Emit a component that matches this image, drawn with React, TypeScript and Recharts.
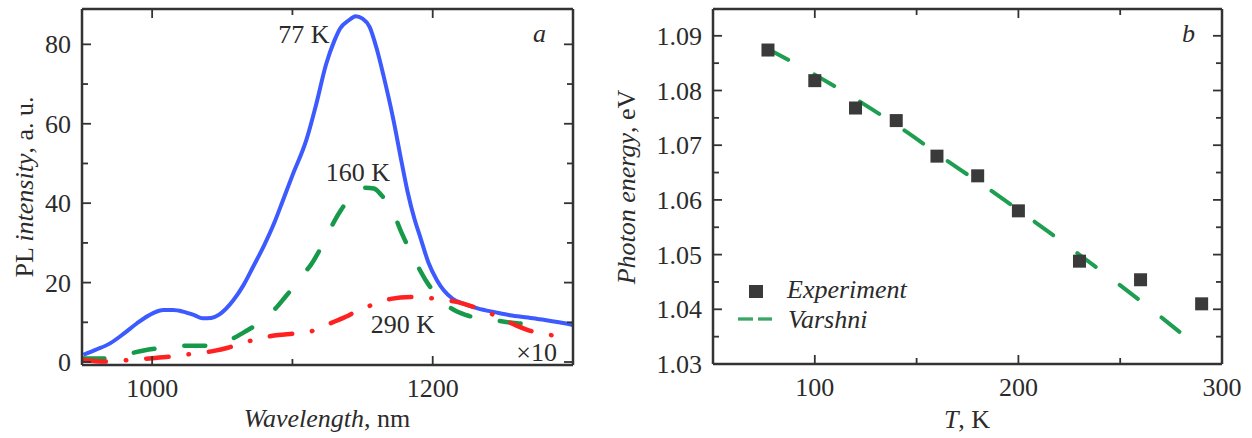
import React from "react";
import { ComposedChart, Line, LineChart, Scatter, XAxis, YAxis } from "recharts";

const FONT = "'Liberation Serif', 'Times New Roman', serif";
const INK = "#2b2b2b";
const FRAME = "#333333";

// panel a: PL spectra (290 K curve is multiplied by 10)
const wl77 = [951, 960, 970, 980, 989, 1000, 1008, 1015, 1022, 1030, 1036, 1042, 1048, 1058, 1065, 1072, 1080, 1087, 1093, 1100, 1110, 1117, 1124, 1130, 1134, 1140, 1145, 1150, 1155, 1160, 1165, 1172, 1178, 1182, 1187, 1191, 1197, 1203, 1208, 1214, 1222, 1232, 1245, 1255, 1268, 1280, 1290, 1300];
const pl77 = [1.8, 3.1, 4.7, 7.2, 9.7, 12.2, 13.1, 13.1, 12.7, 11.8, 11.0, 11.1, 12.0, 15.6, 19.3, 24.0, 29.5, 35, 40.5, 47, 56, 65, 75, 81, 84, 86, 87.1, 86.5, 84.4, 79, 72, 61, 50, 43, 36, 31.6, 25, 20.6, 18, 16, 14.7, 13.5, 12.5, 11.8, 11.2, 10.6, 10, 9.3];

const wl160 = [951, 966, 975, 985, 994, 1003, 1013, 1023, 1032, 1041, 1050, 1058, 1066, 1073, 1080, 1088, 1094, 1100, 1106, 1113, 1122, 1131, 1136, 1140, 1146, 1152, 1158, 1164, 1170, 1178, 1186, 1195, 1205, 1212, 1224, 1241, 1250, 1262, 1279];
const pl160 = [0.9, 0.9, 1.4, 2.2, 2.9, 3.4, 3.8, 4.1, 4.1, 4.1, 4.8, 6.0, 7.6, 9.1, 11.0, 13.5, 16, 18.6, 21.5, 24.4, 29.9, 36.2, 39.0, 41.2, 43.0, 43.9, 43.7, 41.8, 39.1, 32.4, 26.5, 20.6, 16, 13.8, 11.8, 10.7, 10.2, 9.7, 9.1];

const wl290 = [951, 960, 970, 983, 998, 1017, 1031, 1044, 1054, 1064, 1077, 1090, 1100, 1111, 1124, 1138, 1147, 1157, 1170, 1184, 1195, 1203, 1216, 1229, 1238, 1246, 1259, 1272, 1282, 1292];
const pl290 = [0.5, 0.2, 0.1, 0.5, 0.9, 1.5, 2.2, 2.8, 3.6, 4.7, 6.0, 6.8, 7.1, 7.5, 9.3, 11.4, 13.0, 14.4, 15.9, 16.4, 16.2, 15.9, 15.2, 13.9, 12.8, 11.4, 9.3, 7.6, 6.9, 6.4];

const xTicksA = [1000, 1100, 1200];
const xLabelsA = [1000, 1200];
const yTicksA = [0, 10, 20, 30, 40, 50, 60, 70, 80];
const yLabelsA = [0, 20, 40, 60, 80];

// panel b: peak energy vs temperature
const tempExp = [77, 100, 120, 140, 160, 180, 200, 230, 260, 290];
const energyExp = [1.0874, 1.0818, 1.0768, 1.0745, 1.068, 1.0644, 1.058, 1.0488, 1.0454, 1.041];
const tempFit = [77, 100, 122, 144, 166, 187, 208, 231, 251, 271, 282];
const energyFit = [1.0876, 1.0829, 1.078, 1.0727, 1.0669, 1.0616, 1.056, 1.0497, 1.0441, 1.0383, 1.035];

const xTicksB = [100, 150, 200, 250, 300];
const xLabelsB = [100, 200, 300];
const yTicksB = [1.03, 1.035, 1.04, 1.045, 1.05, 1.055, 1.06, 1.065, 1.07, 1.075, 1.08, 1.085, 1.09];
const yLabelsB = [1.03, 1.04, 1.05, 1.06, 1.07, 1.08, 1.09];

const rows = (xs: number[], ys: number[], xk: string, yk: string) =>
  xs.map((x, i) => ({ [xk]: x, [yk]: ys[i] }));

const spec77 = rows(wl77, pl77, "wl", "pl");
const spec160 = rows(wl160, pl160, "wl", "pl");
const spec290 = rows(wl290, pl290, "wl", "pl");
const expRows = rows(tempExp, energyExp, "t", "e");
const fitRows = rows(tempFit, energyFit, "t", "e");

const isIn = (list: number[], v: number) => list.some((l) => Math.abs(l - v) < 1e-9);

// inward ticks on every side, labels only on bottom/left majors
function makeTick(side: "bottom" | "top" | "left" | "right", labels: number[], fmt: (v: number) => string) {
  // biome-ignore lint/suspicious/noExplicitAny: recharts tick props
  return (props: any) => {
    const { x, y, payload } = props;
    const v = payload.value as number;
    const major = isIn(labels, v);
    const len = major ? 9 : 6;
    const stroke = { stroke: FRAME, strokeWidth: 1.8 };
    if (side === "bottom") {
      return (
        <g>
          <line x1={x} x2={x} y1={y} y2={y - len} {...stroke} />
          {major && (
            <text x={x} y={y + 32} textAnchor="middle" fontSize={26} fontFamily={FONT} fill={INK}>
              {fmt(v)}
            </text>
          )}
        </g>
      );
    }
    if (side === "top") return <line x1={x} x2={x} y1={y} y2={y + len} {...stroke} />;
    if (side === "left") {
      return (
        <g>
          <line x1={x} x2={x + len} y1={y} y2={y} {...stroke} />
          {major && (
            <text x={x - 11} y={y + 9} textAnchor="end" fontSize={26} fontFamily={FONT} fill={INK}>
              {fmt(v)}
            </text>
          )}
        </g>
      );
    }
    return <line x1={x} x2={x - len} y1={y} y2={y} {...stroke} />;
  };
}

const intFmt = (v: number) => String(Math.round(v));
const eFmt = (v: number) => v.toFixed(2);
const axisLine = { stroke: FRAME, strokeWidth: 2.5 };
const flat = { tickSize: 0, tickMargin: 0, tickLine: false, axisLine, interval: 0 as const, allowDataOverflow: true };

// biome-ignore lint/suspicious/noExplicitAny: recharts shape props
const SquareMark = (p: any) => (
  <rect x={p.cx - 6.5} y={p.cy - 6.5} width={13} height={13} fill="#3a3a3a" />
);

function SpectraChart() {
  return (
    <LineChart width={600} height={438} margin={{ top: 8, right: 26, bottom: 72, left: 81 }}>
      <XAxis type="number" dataKey="wl" domain={[950, 1300]} ticks={xTicksA} height={1} {...flat}
        tick={makeTick("bottom", xLabelsA, intFmt)} />
      <XAxis xAxisId="top" orientation="top" type="number" dataKey="wl" domain={[950, 1300]} ticks={xTicksA}
        height={1} {...flat} tick={makeTick("top", xLabelsA, intFmt)} />
      <YAxis type="number" domain={[-0.75, 88.9]} ticks={yTicksA} width={1} {...flat}
        tick={makeTick("left", yLabelsA, intFmt)} />
      <YAxis yAxisId="right" orientation="right" type="number" domain={[-0.75, 88.9]} ticks={yTicksA}
        width={1} {...flat} tick={makeTick("right", yLabelsA, intFmt)} />
      <Line data={spec77} dataKey="pl" type="monotone" stroke="#3d5afe" strokeWidth={4} dot={false}
        isAnimationActive={false} />
      <Line data={spec160} dataKey="pl" type="monotone" stroke="#17994a" strokeWidth={4.5}
        strokeDasharray="21 30" strokeLinecap="round" dot={false} isAnimationActive={false} />
      <Line data={spec290} dataKey="pl" type="monotone" stroke="#ff2020" strokeWidth={4.5}
        strokeDasharray="22.5 20 0.5 20" strokeLinecap="round" dot={false} isAnimationActive={false} />
    </LineChart>
  );
}

function EnergyChart() {
  return (
    <ComposedChart width={632} height={438} margin={{ top: 8, right: 29, bottom: 73, left: 92 }}>
      <XAxis type="number" dataKey="t" domain={[50, 300]} ticks={xTicksB} height={1} {...flat}
        tick={makeTick("bottom", xLabelsB, intFmt)} />
      <XAxis xAxisId="top" orientation="top" type="number" dataKey="t" domain={[50, 300]} ticks={xTicksB}
        height={1} {...flat} tick={makeTick("top", xLabelsB, intFmt)} />
      <YAxis type="number" domain={[1.03, 1.0949]} ticks={yTicksB} width={1} {...flat}
        tick={makeTick("left", yLabelsB, eFmt)} />
      <YAxis yAxisId="right" orientation="right" type="number" domain={[1.03, 1.0949]} ticks={yTicksB}
        width={1} {...flat} tick={makeTick("right", yLabelsB, eFmt)} />
      <Scatter data={expRows} dataKey="e" shape={SquareMark} isAnimationActive={false} />
      <Line data={fitRows} dataKey="e" type="monotone" stroke="#1d9e50" strokeWidth={4}
        strokeDasharray="23 30" strokeLinecap="round" dot={false} isAnimationActive={false} />
    </ComposedChart>
  );
}

const txt = { fontFamily: FONT, fontSize: 26, fill: INK };

export default function App() {
  return (
    <div style={{ position: "absolute", left: 0, top: 0, width: 1252, height: 438, background: "#fff" }}>
      <div style={{ position: "absolute", left: 0, top: 0 }}>
        <SpectraChart />
      </div>
      <div style={{ position: "absolute", left: 620, top: 0 }}>
        <EnergyChart />
      </div>
      <svg width={1252} height={438} style={{ position: "absolute", left: 0, top: 0, pointerEvents: "none" }}>
        {/* panel a texts */}
        <text x={304} y={43} textAnchor="middle" {...txt}>77 K</text>
        <text x={358} y={181} textAnchor="middle" {...txt}>160 K</text>
        <text x={403} y={333} textAnchor="middle" {...txt}>290 K</text>
        <text x={557} y={361} textAnchor="end" {...txt}>×10</text>
        <text x={533} y={42} {...txt} fontStyle="italic">a</text>
        <text x={327} y={427} textAnchor="middle" {...txt}>
          <tspan fontStyle="italic">Wavelength</tspan>, nm
        </text>
        <text x={33} y={187} textAnchor="middle" transform="rotate(-90 33 187)" {...txt}>
          PL <tspan fontStyle="italic">intensity</tspan>, a. u.
        </text>
        {/* panel b texts */}
        <text x={1182} y={42} {...txt} fontStyle="italic">b</text>
        <text x={967} y={428} textAnchor="middle" {...txt}>
          <tspan fontStyle="italic">T</tspan>, K
        </text>
        <text x={635} y={187} textAnchor="middle" transform="rotate(-90 635 187)" {...txt}>
          <tspan fontStyle="italic">Photon energy</tspan>, eV
        </text>
        {/* legend */}
        <rect x={749} y={285} width={14} height={13} fill="#3a3a3a" />
        <text x={787} y={298} {...txt} fontStyle="italic">Experiment</text>
        <line x1={738} x2={753} y1={319} y2={319} stroke="#3aa565" strokeWidth={3.3} />
        <line x1={758} x2={772} y1={319} y2={319} stroke="#3aa565" strokeWidth={3.3} />
        <text x={788} y={328} {...txt} fontStyle="italic">Varshni</text>
      </svg>
    </div>
  );
}
